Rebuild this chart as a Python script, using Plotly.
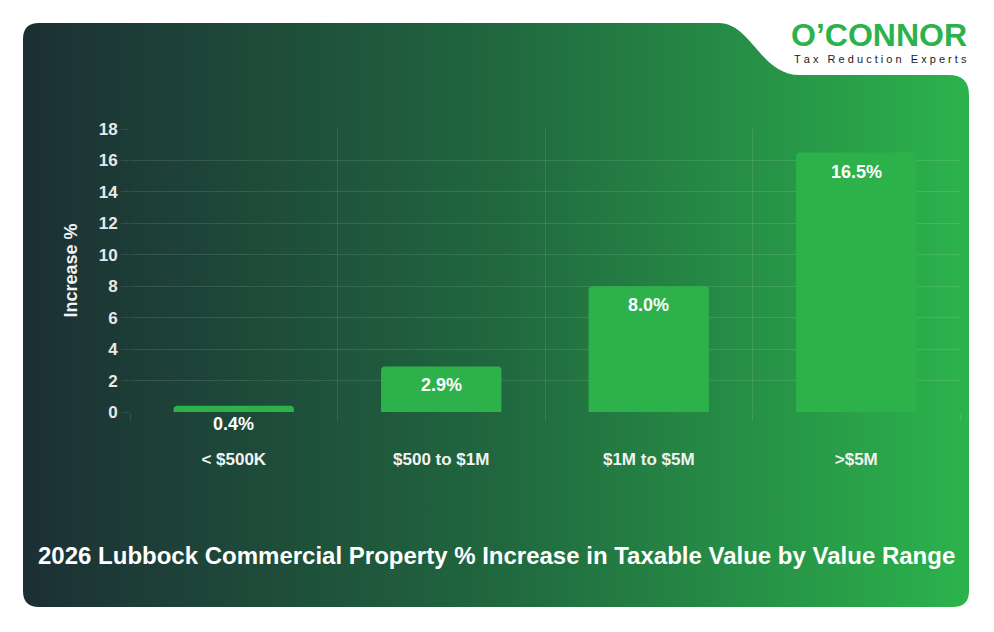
import base64
import plotly.graph_objects as go

# ---- data ----
categories = ["< $500K", "$500 to $1M", "$1M to $5M", ">$5M"]
increase_pct = [0.4, 2.9, 8.0, 16.5]
bar_labels = ["0.4%", "2.9%", "8.0%", "16.5%"]
y_ticks = [0, 2, 4, 6, 8, 10, 12, 14, 16, 18]
title_text = "2026 Lubbock Commercial Property % Increase in Taxable Value by Value Range"
y_title = "Increase %"
logo_text = "O’CONNOR"
tagline = "Tax Reduction Experts"

W, H = 994, 632
L, R, T, B = 130, 960, 129, 412  # plot area in pixels
PW, PH = R - L, B - T


def px2paper(x, y):
    return (x - L) / PW, (B - y) / PH


FONT = "Liberation Sans, Arial, Helvetica, sans-serif"
BAR_COLOR = "rgb(44,177,75)"
GRID = "rgba(255,255,255,0.11)"

# background card (gradient, rounded corners, notch for the logo)
svg = f"""<svg xmlns='http://www.w3.org/2000/svg' width='{W}' height='{H}' viewBox='0 0 {W} {H}' preserveAspectRatio='none'>
<defs><linearGradient id='g' x1='23' y1='0' x2='969' y2='0' gradientUnits='userSpaceOnUse'>
<stop offset='0' stop-color='#1c2f34'/><stop offset='0.5' stop-color='#20673f'/><stop offset='1' stop-color='#2cb34c'/>
</linearGradient></defs>
<path d='M39,23 L718,23 C752,23 760,75 800,75 L949,75 Q969,75 969,95 L969,591 Q969,607 953,607 L39,607 Q23,607 23,591 L23,39 Q23,23 39,23 Z' fill='url(#g)'/>
</svg>"""
src = "data:image/svg+xml;base64," + base64.b64encode(svg.encode()).decode()
x0, y0 = px2paper(0, 0)

fig = go.Figure(
    go.Bar(
        x=categories,
        y=increase_pct,
        marker=dict(color=BAR_COLOR, line=dict(width=0)),
        hoverinfo="skip",
    )
)

annotations = []
for c, v, lab in zip(categories, increase_pct, bar_labels):
    if v >= 2:
        annotations.append(dict(x=c, y=v, xref="x", yref="y", text=lab, showarrow=False,
                                yanchor="top", yshift=-7,
                                font=dict(family=FONT, size=18, color="white", weight="bold")))
    else:
        annotations.append(dict(x=c, y=0, xref="x", yref="y", text=lab, showarrow=False,
                                yanchor="top", yshift=0,
                                font=dict(family=FONT, size=18, color="white", weight="bold")))

tx, ty = px2paper(496, 555)
annotations.append(dict(x=tx, y=ty, xref="paper", yref="paper", text=title_text, showarrow=False,
                        xanchor="center", yanchor="middle",
                        font=dict(family=FONT, size=24, color="white", weight="bold")))
lx, ly = px2paper(879, 35)
annotations.append(dict(x=lx, y=ly, xref="paper", yref="paper", text=logo_text, showarrow=False,
                        xanchor="center", yanchor="middle",
                        font=dict(family=FONT, size=32, color="#2bb24c", weight="bold")))
spaced = "\u00a0\u00a0\u00a0".join("\u00a0".join(w) for w in tagline.split(" "))
gx, gy = px2paper(880, 59)
annotations.append(dict(x=gx, y=gy, xref="paper", yref="paper", text=spaced, showarrow=False,
                        xanchor="center", yanchor="middle",
                        font=dict(family=FONT, size=11, color="#1a1a1a")))

fig.update_layout(
    width=W, height=H,
    margin=dict(l=L, r=W - R, t=T, b=H - B, pad=0),
    paper_bgcolor="white",
    plot_bgcolor="rgba(0,0,0,0)",
    showlegend=False,
    bargap=0.42,
    barcornerradius=4,
    images=[dict(source=src, xref="paper", yref="paper", x=x0, y=y0,
                 sizex=W / PW, sizey=H / PH, xanchor="left", yanchor="top",
                 sizing="stretch", layer="below")],
    annotations=annotations,
    xaxis=dict(
        type="category",
        tickson="boundaries",
        showgrid=True, gridcolor=GRID, gridwidth=1,
        ticks="outside", ticklen=8, tickcolor=GRID,
        showline=False, zeroline=False,
        ticklabelstandoff=35,
        tickfont=dict(family=FONT, size=17, color="#f2f2f2", weight="bold"),
    ),
    yaxis=dict(
        range=[0, 18],
        tickvals=y_ticks,
        showgrid=True, gridcolor=GRID, gridwidth=1,
        ticks="outside", ticklen=8, tickcolor=GRID,
        showline=False, zeroline=False,
        tickfont=dict(family=FONT, size=17, color="#e8e8e8", weight="bold"),
        title=dict(text=y_title, standoff=16,
                   font=dict(family=FONT, size=18, color="#f2f2f2", weight="bold")),
    ),
)

fig.write_html("out.html")
